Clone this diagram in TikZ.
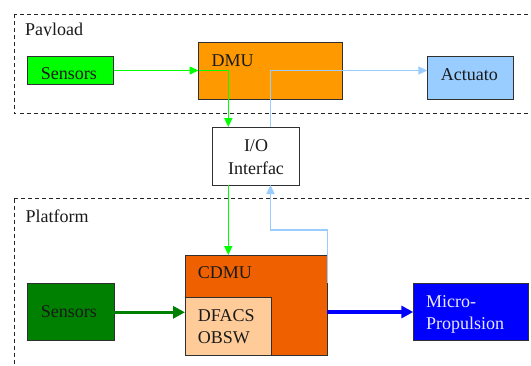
\documentclass[tikz,border=0pt]{standalone}
\usepackage{fontspec}
\setmainfont{Liberation Serif}
\usetikzlibrary{arrows.meta}
\definecolor{bright}{HTML}{00FF00}
\definecolor{dkgreen}{HTML}{008000}
\definecolor{dmuorange}{HTML}{FF9900}
\definecolor{cdmuorange}{HTML}{EE6000}
\definecolor{peach}{HTML}{FFCC99}
\definecolor{ltblue}{HTML}{99CCFF}
\definecolor{pureblue}{HTML}{0000FF}
\definecolor{edge}{HTML}{303030}
\definecolor{txt}{HTML}{1A1A1A}
\definecolor{paletxt}{HTML}{E8E8FF}
\tikzset{
  box/.style={draw=edge, line width=0.9pt, inner sep=0pt, outer sep=0pt},
  lbl/.style={anchor=base west, inner sep=0pt, text=txt, font=\fontsize{18}{22}\selectfont},
  clbl/.style={anchor=base, inner sep=0pt, text=txt, font=\fontsize{18}{22}\selectfont},
  zone/.style={draw=black!85, line width=0.8pt, dash pattern=on 4pt off 3pt},
  thin/.style={line width=1.5pt, -{Triangle[length=9pt,width=8pt]}},
  thick/.style={line width=3.5pt, -{Triangle[length=12pt,width=12pt]}},
}
\begin{document}
\begin{tikzpicture}[x=1pt,y=-1pt]
\clip (0,0) rectangle (531,365);
\fill[white] (0,0) rectangle (531,365);
% zones
\draw[zone] (14,14) rectangle (560,113.5);
\draw[zone] (14,198.5) rectangle (560,400);
% boxes
\node[box, fill=bright, minimum width=86pt, minimum height=28.5pt] (sensA) at (70.5,70.25) {};
\node[box, fill=dmuorange, minimum width=143.5pt, minimum height=57.5pt] (dmu) at (270.25,70.75) {};
\node[box, fill=ltblue, minimum width=86pt, minimum height=43.3pt] (act) at (470.3,77.6) {};
\node[box, fill=white, minimum width=86.7pt, minimum height=58pt] (io) at (256,156) {};
\node[box, fill=cdmuorange, minimum width=142pt, minimum height=100pt] (cdmu) at (256,305) {};
\node[box, fill=peach, minimum width=86pt, minimum height=57.3pt] (dfacs) at (228,326.35) {};
\node[box, fill=dkgreen, minimum width=86.7pt, minimum height=57.4pt] (sensB) at (70.65,312) {};
\node[box, fill=pureblue, minimum width=114.7pt, minimum height=57.4pt] (micro) at (470.65,312) {};
% texts
\begin{scope}
\clip (0,0) rectangle (200,35.7);
\node[lbl] (tpay) at (25,35.5) {Payload};
\end{scope}
\begin{scope}
\clip (0,0) rectangle (200,79.3);
\node[lbl] (tsensA) at (40.7,79.6) {Sensors};
\end{scope}
\node[lbl] (tdmu) at (211.5,66) {DMU};
\node[lbl] (tact) at (440.7,80) {Actuato};
\node[clbl] (tio1) at (256,151) {I/O};
\node[clbl] (tio2) at (256,174) {Interfac};
\node[lbl] (tplat) at (25.4,222) {Platform};
\node[lbl] (tcdmu) at (197.7,278.3) {CDMU};
\node[lbl] (tdf1) at (197.7,321.7) {DFACS};
\node[lbl] (tdf2) at (197.7,343.3) {OBSW};
\node[lbl] (tsensB) at (40.7,317.3) {Sensors};
\node[lbl, text=paletxt] (tmic1) at (426,307.3) {Micro-};
\node[lbl, text=paletxt] (tmic2) at (426,329.3) {Propulsion};
% connectors
\coordinate (gA) at (228.3,70.5);
\coordinate (bA) at (270.5,70.5);
\coordinate (bB) at (327.6,283.3);
\coordinate (bC) at (327.6,230);
\coordinate (bD) at (270.5,230);
\draw[bright, thin] (sensA.east |- gA) -- (dmu.west |- gA);
\draw[bright, thin] (dmu.west |- gA) -- (gA) -- (gA |- io.north);
\draw[bright, thin] (gA |- io.south) -- (gA |- cdmu.north);
\draw[ltblue, thin] (bA |- io.north) -- (bA) -- (bA -| act.west);
\draw[ltblue, thin] (bB) -- (bC) -- (bD) -- (bD |- io.south);
\draw[dkgreen, thick] (sensB.east |- 0,312.3) -- (dfacs.west |- 0,312.3);
\draw[pureblue, thick] (cdmu.east |- micro.west) -- (micro.west);
\end{tikzpicture}
\end{document}
